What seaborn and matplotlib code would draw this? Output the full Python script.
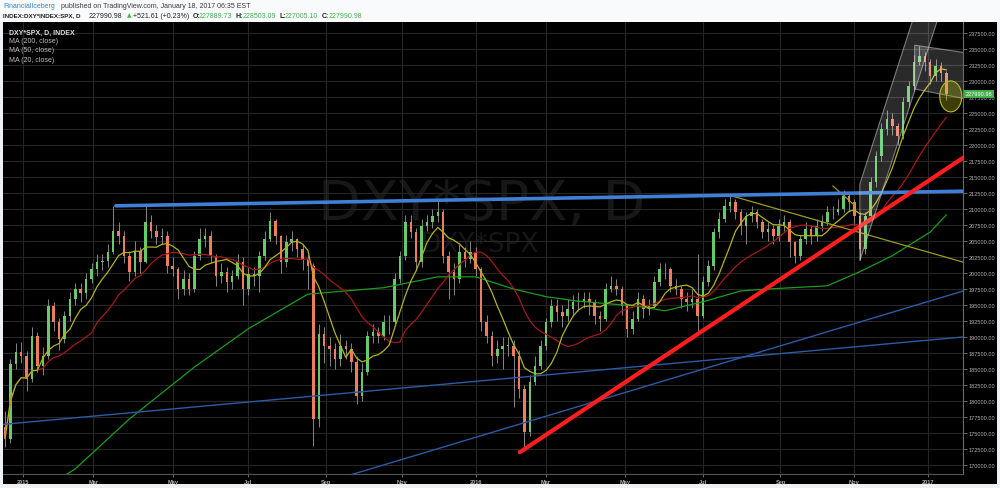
import pandas as pd
import numpy as np
import matplotlib
matplotlib.use('Agg')
import matplotlib.pyplot as plt
import seaborn as sns
from matplotlib import font_manager
from matplotlib.patches import Polygon, Ellipse, Rectangle
from matplotlib.transforms import blended_transform_factory
from pandas.tseries.holiday import USFederalHolidayCalendar

# 1. DATA  (prices in thousands, one candle per 3 trading days from 2014-12-17)
first_open = 176.0
closes = [
    174.1, 185.8, 187.7, 187.0, 183.4, 190.2, 185.5, 187.0, 194.8, 192.3,
    189.7, 193.3, 195.9, 197.5, 196.8, 199.1, 200.6, 201.7, 201.9, 203.3,
    206.6, 205.8, 202.7, 200.2, 203.4, 201.7, 208.0, 206.6, 205.6, 205.8,
    201.1, 200.6, 197.5, 199.1, 197.5, 202.7, 205.3, 205.8, 202.7, 199.5,
    200.2, 198.6, 199.5, 201.7, 197.5, 199.8, 199.5, 202.7, 205.3, 208.1,
    205.8, 201.7, 204.8, 205.3, 203.8, 202.2, 201.1, 177.2, 190.5, 188.6,
    188.1, 186.6, 188.6, 188.1, 186.1, 180.8, 184.5, 190.2, 190.8, 190.2,
    192.3, 192.3, 199.1, 202.7, 208.0, 206.4, 201.7, 207.4, 208.0, 208.9,
    209.5, 202.7, 200.2, 199.1, 203.3, 202.2, 203.3, 200.6, 192.3, 190.2,
    187.0, 188.1, 188.6, 188.6, 187.0, 181.9, 175.2, 183.0, 185.5, 188.6,
    192.3, 194.8, 193.9, 193.3, 194.4, 195.5, 195.5, 195.9, 195.5, 193.3,
    192.8, 197.5, 198.0, 197.5, 194.8, 191.3, 192.8, 195.9, 194.4, 194.8,
    198.6, 200.6, 200.6, 198.0, 197.5, 195.9, 195.5, 195.9, 193.3, 198.6,
    201.1, 206.4, 208.4, 210.5, 211.1, 209.5, 207.3, 208.9, 209.5, 208.0,
    206.4, 206.9, 205.8, 207.3, 208.0, 204.8, 202.7, 205.3, 206.9, 205.8,
    207.3, 208.0, 209.5, 209.5, 210.0, 212.0, 211.1, 208.9, 203.8, 208.9,
    214.2, 218.3, 222.5, 224.1, 223.0, 221.4, 226.7, 229.2, 233.0, 233.9,
    233.0, 230.8, 232.3, 231.2, 227.99,
]
highs = [
    178.5, 186.5, 189.0, 189.2, 187.8, 191.5, 190.8, 188.5, 196.0, 195.5,
    193.0, 194.0, 197.0, 198.5, 198.5, 200.0, 201.5, 203.0, 203.0, 204.5,
    210.5, 208.0, 206.5, 203.5, 205.0, 204.0, 210.5, 209.0, 207.5, 207.0,
    206.5, 202.5, 201.0, 200.5, 200.0, 203.5, 207.0, 207.0, 206.5, 203.0,
    201.5, 201.0, 200.5, 203.0, 202.5, 201.0, 201.0, 203.5, 206.5, 209.5,
    208.5, 206.0, 206.0, 206.5, 205.5, 204.5, 203.0, 201.5, 192.0, 191.5,
    190.0, 189.0, 190.5, 189.5, 189.0, 187.0, 186.0, 191.0, 192.0, 191.5,
    193.5, 193.5, 200.0, 203.5, 209.0, 209.0, 207.0, 208.5, 209.0, 210.0,
    211.2, 210.0, 203.5, 201.5, 204.5, 204.0, 205.0, 204.0, 201.0, 193.5,
    191.0, 189.5, 190.0, 190.0, 189.5, 188.0, 182.5, 184.0, 187.0, 189.5,
    193.0, 196.0, 196.0, 195.0, 196.0, 196.5, 197.0, 197.0, 197.0, 196.0,
    194.0, 198.5, 199.5, 199.0, 198.0, 195.0, 194.0, 197.0, 196.5, 196.0,
    199.5, 201.5, 201.5, 201.0, 199.0, 198.0, 197.0, 197.5, 203.0, 199.5,
    202.0, 207.0, 209.5, 211.5, 212.5, 211.5, 210.0, 209.5, 210.5, 210.0,
    208.5, 208.0, 207.5, 208.5, 209.0, 208.5, 205.0, 206.0, 208.0, 207.5,
    208.5, 209.0, 210.5, 210.5, 211.5, 213.0, 212.5, 211.5, 209.5, 209.5,
    215.0, 219.0, 223.5, 225.5, 225.0, 223.5, 227.5, 230.0, 234.0, 235.5,
    234.5, 233.5, 233.5, 233.0, 231.5,
]
lows = [
    172.8, 173.5, 185.0, 186.0, 181.5, 183.0, 184.5, 184.0, 186.5, 191.0,
    188.0, 189.0, 192.5, 195.0, 195.5, 196.0, 198.5, 199.5, 200.5, 201.0,
    203.0, 204.5, 201.5, 198.8, 199.5, 200.0, 201.5, 205.5, 204.5, 204.5,
    200.0, 199.5, 196.0, 196.5, 196.5, 197.0, 202.0, 204.0, 201.5, 198.0,
    198.5, 197.0, 197.5, 199.0, 195.0, 196.5, 198.0, 197.0, 202.0, 205.0,
    204.5, 200.0, 201.0, 203.5, 202.5, 200.5, 197.5, 173.0, 176.0, 186.0,
    185.5, 185.0, 185.5, 186.5, 184.5, 179.5, 180.0, 184.0, 189.0, 189.0,
    189.5, 190.5, 192.0, 198.5, 202.0, 205.5, 200.5, 201.0, 206.5, 207.0,
    208.0, 201.5, 196.0, 196.5, 198.5, 201.0, 201.5, 199.5, 191.0, 189.0,
    185.5, 186.0, 185.0, 187.0, 179.0, 180.5, 172.8, 174.5, 182.5, 185.0,
    188.0, 191.5, 192.5, 191.5, 192.5, 193.5, 194.0, 194.5, 193.5, 192.0,
    191.0, 192.5, 197.0, 196.5, 193.5, 190.0, 190.5, 192.5, 193.0, 193.5,
    194.5, 198.0, 199.0, 197.0, 196.5, 194.5, 194.0, 194.5, 191.0, 193.0,
    198.0, 200.5, 205.5, 208.0, 209.5, 208.5, 206.0, 204.5, 208.0, 207.0,
    205.5, 205.0, 204.5, 205.0, 206.5, 202.5, 201.5, 202.0, 204.5, 204.5,
    205.0, 206.5, 207.5, 208.5, 209.0, 209.5, 209.5, 207.5, 202.0, 203.0,
    208.5, 213.5, 217.5, 221.5, 221.5, 220.0, 221.0, 226.0, 228.5, 232.5,
    231.5, 229.5, 230.0, 230.0, 227.0,
]

# 200-day MA (trading-day index, price)
ma200_days = [30, 39, 69, 105, 135, 168, 210, 240, 261, 282, 300, 318,
              351, 366, 387, 408, 423, 456, 474, 492, 513, 522]
ma200_vals = [167.8, 169.4, 177.2, 185.3, 191.3, 196.7, 197.7, 199.4, 199.4,
              197.5, 196.3, 195.6, 194.8, 194.1, 195.5, 197.2, 197.5, 198.0,
              200.2, 202.7, 206.4, 209.1]

# drawings (trading-day index, price)
resist_days, resist_vals = [61.5, 535], [210.5, 212.8]
support_days, support_vals = [285.5, 535], [172.0, 218.7]
thin_blue1_days, thin_blue1_vals = [-3, 535], [176.3, 190.1]
thin_blue2_days, thin_blue2_vals = [185, 535], [167.9, 197.5]
yellow1_days, yellow1_vals = [403.5, 535], [212.0, 201.4]
yellow2_days, yellow2_vals = [459, 471], [213.6, 210.6]
rise_chan_days = [474, 474, 520, 520]
rise_chan_vals = [213.9, 201.9, 242.1, 254.1]
flat_chan_days = [504.4, 540, 540, 504.4]
flat_chan_vals = [235.6, 234.1, 226.8, 228.75]

month_ticks = [(2015, 1), (2015, 3), (2015, 5), (2015, 7), (2015, 9), (2015, 11),
               (2016, 1), (2016, 3), (2016, 5), (2016, 7), (2016, 9), (2016, 11),
               (2017, 1)]

# 2. FRAME
n = len(closes)
opens = [first_open] + closes[:-1]
df = pd.DataFrame({
    'day': np.arange(n) * 3,
    'open': np.array(opens) * 1000,
    'close': np.array(closes) * 1000,
    'high': np.array(highs) * 1000,
    'low': np.array(lows) * 1000,
})
df['ma20'] = df['close'].rolling(7, min_periods=1).mean()
df['ma50'] = df['close'].rolling(17, min_periods=1).mean()
ma200 = pd.DataFrame({'day': ma200_days, 'ma': np.array(ma200_vals) * 1000})

cal = pd.offsets.CustomBusinessDay(calendar=USFederalHolidayCalendar())
tdays = pd.date_range('2014-12-17', '2017-03-31', freq=cal)
tick_pos, tick_lab = [], []
for yr, mo in month_ticks:
    idx = int(np.argmax((tdays.year == yr) & (tdays.month == mo)))
    tick_pos.append(idx)
    tick_lab.append(str(yr) if mo == 1 else tdays[idx].strftime('%b'))

# 3. STYLE
sns.set_theme(style='dark')
names = {f.name for f in font_manager.fontManager.ttflist}
NARROW = 'Liberation Sans Narrow' in names
FONT = ['Liberation Sans Narrow', 'DejaVu Sans'] if NARROW else ['Liberation Sans', 'DejaVu Sans']
plt.rcParams['font.family'] = FONT
fs = 6.0 if NARROW else 5.0
tick_fs = 5.0 if NARROW else 4.1

W, H = 1000, 489
fig = plt.figure(figsize=(10, 4.89), dpi=100, facecolor='#eef1f4')
fig.patches.append(Rectangle((0, 1 - 23 / H), 1, 23 / H, transform=fig.transFigure,
                             fc='#f9fafb', ec='none', zorder=-10))
fig.patches.append(Rectangle((3 / W, 4 / H), 994 / W, (485 - 23) / H,
                             transform=fig.transFigure, fc='black', ec='none', zorder=-10))

ax = fig.add_axes([3 / W, 14 / H, 960 / W, 452 / H])
ax.set_facecolor('black')

UP, DOWN = '#67c96a', '#ee7d60'
up = df['close'] >= df['open']
ax.vlines(df['day'], df['low'], df['high'], color='#9a9a9a', lw=0.6, zorder=2)
ax.bar(df['day'], (df['close'] - df['open']).abs().clip(lower=90),
       bottom=df[['open', 'close']].min(axis=1), width=1.4,
       color=np.where(up, UP, DOWN), zorder=2.1, lw=0)

sns.lineplot(data=ma200, x='day', y='ma', ax=ax, color='#1c9c1c', lw=0.9, zorder=3, legend=False)
sns.lineplot(data=df, x='day', y='ma50', ax=ax, color='#a51818', lw=0.9, zorder=3, legend=False)
sns.lineplot(data=df, x='day', y='ma20', ax=ax, color='#b3b31e', lw=0.9, zorder=3, legend=False)

def trend(days, vals, color, lw):
    sns.lineplot(x=days, y=np.array(vals) * 1000, ax=ax, color=color, lw=lw,
                 zorder=4, legend=False, estimator=None)

trend(thin_blue1_days, thin_blue1_vals, '#2c5aa3', 1.0)
trend(thin_blue2_days, thin_blue2_vals, '#2c5aa3', 1.0)
trend(yellow1_days, yellow1_vals, '#9c9c22', 0.9)
trend(yellow2_days, yellow2_vals, '#9c9c22', 0.9)
trend(resist_days, resist_vals, '#3f7fd6', 2.6)
trend(support_days, support_vals, '#ff1e1e', 3.0)

for d, v in ((rise_chan_days, rise_chan_vals), (flat_chan_days, flat_chan_vals)):
    ax.add_patch(Polygon(np.column_stack([d, np.array(v) * 1000]), closed=True,
                         fc=(1, 1, 1, 0.17), ec=(0.8, 0.8, 0.8, 0.55), lw=0.8, zorder=4))
ax.add_patch(Ellipse((524.4, 227600), 12.2, 4840, fc=(0.75, 0.75, 0.1, 0.32),
                     ec='#b8b82a', lw=0.8, zorder=4.5))

ax.text(0.499, 0.597, 'DXY*SPX, D', transform=ax.transAxes, ha='center', va='center',
        fontsize=40, color='#171717', zorder=0.5, family=['DejaVu Sans'])
ax.text(0.497, 0.509, 'DXY*SPX', transform=ax.transAxes, ha='center', va='center',
        fontsize=19, color='#171717', zorder=0.5, family=['DejaVu Sans'])

# axes
ax.set_xlim(-1.1, 531.2)
ax.set_ylim(168594, 239219)
ax.set_xticks(tick_pos)
ax.set_xticklabels(tick_lab)
ax.set_yticks(np.arange(170000, 237501, 2500))
ax.set_yticklabels([f'{v:.2f}' for v in np.arange(170000, 237501, 2500)])
ax.yaxis.tick_right()
ax.set_xlabel('')
ax.set_ylabel('')
ax.grid(True, color='#262626', lw=0.8)
ax.set_axisbelow(True)
ax.tick_params(axis='y', colors='#777777', labelcolor='#b0b0b0', labelsize=tick_fs,
               length=3, width=0.6, pad=1.0, right=True, left=False)
ax.tick_params(axis='x', colors='#777777', labelcolor='#b0b0b0', labelsize=tick_fs,
               length=2, width=0.6, pad=1.5, bottom=True)
for lab in ax.get_xticklabels():
    lab.set_fontweight('bold')
for s in ('top', 'left'):
    ax.spines[s].set_visible(False)
ax.spines['right'].set_color('#6a6a6a')
ax.spines['bottom'].set_color('#555555')
ax.spines['right'].set_linewidth(0.8)
ax.spines['bottom'].set_linewidth(0.8)

ax.text(1.003, 227990.98, '227990.98', transform=blended_transform_factory(ax.transAxes, ax.transData),
        ha='left', va='center', fontsize=tick_fs, color='white', zorder=6, clip_on=False,
        bbox=dict(boxstyle='square,pad=0.3', fc='#46b04f', ec='none'))

# 4. TEXT
def ftext(x, y, s, **kw):
    fig.text(x / W, 1 - y / H, s, va='center', ha='left', **kw)

ftext(9, 33, 'DXY*SPX, D, INDEX', fontsize=fs, color='#dddddd', fontweight='bold')
ftext(9, 42, 'MA (200, close)', fontsize=fs, color='#bbbbbb')
ftext(9, 51, 'MA (50, close)', fontsize=fs, color='#bbbbbb')
ftext(9, 60, 'MA (20, close)', fontsize=fs, color='#bbbbbb')

ftext(3, 6, 'FinancialIceberg', fontsize=fs, color='#2f8bd0')
ftext(61, 6, 'published on TradingView.com, January 18, 2017 06:35 EST', fontsize=fs, color='#3a3a3a')
GREEN = '#3cb547'
ftext(3, 16, 'INDEX:DXY*INDEX:SPX, D', fontsize=fs - 0.5, color='#222222', fontweight='bold')
ftext(89, 16, '227990.98', fontsize=fs, color='#222222')
ftext(127, 16, '\u25b2', fontsize=fs - 0.8, color=GREEN, family=['DejaVu Sans'])
ftext(133, 16, '+521.61 (+0.23%)', fontsize=fs, color='#222222')
for x_lab, lab, x_val, val in ((193, 'O:', 199, '227889.73'), (236, 'H:', 243, '228503.09'),
                               (280, 'L:', 285, '227005.10'), (322, 'C:', 329, '227990.98')):
    ftext(x_lab, 16, lab, fontsize=fs, color='#222222', fontweight='bold')
    ftext(x_val, 16, val, fontsize=fs, color=GREEN)

plt.savefig('out.png', dpi=100, facecolor=fig.get_facecolor())
print('saved out.png')
